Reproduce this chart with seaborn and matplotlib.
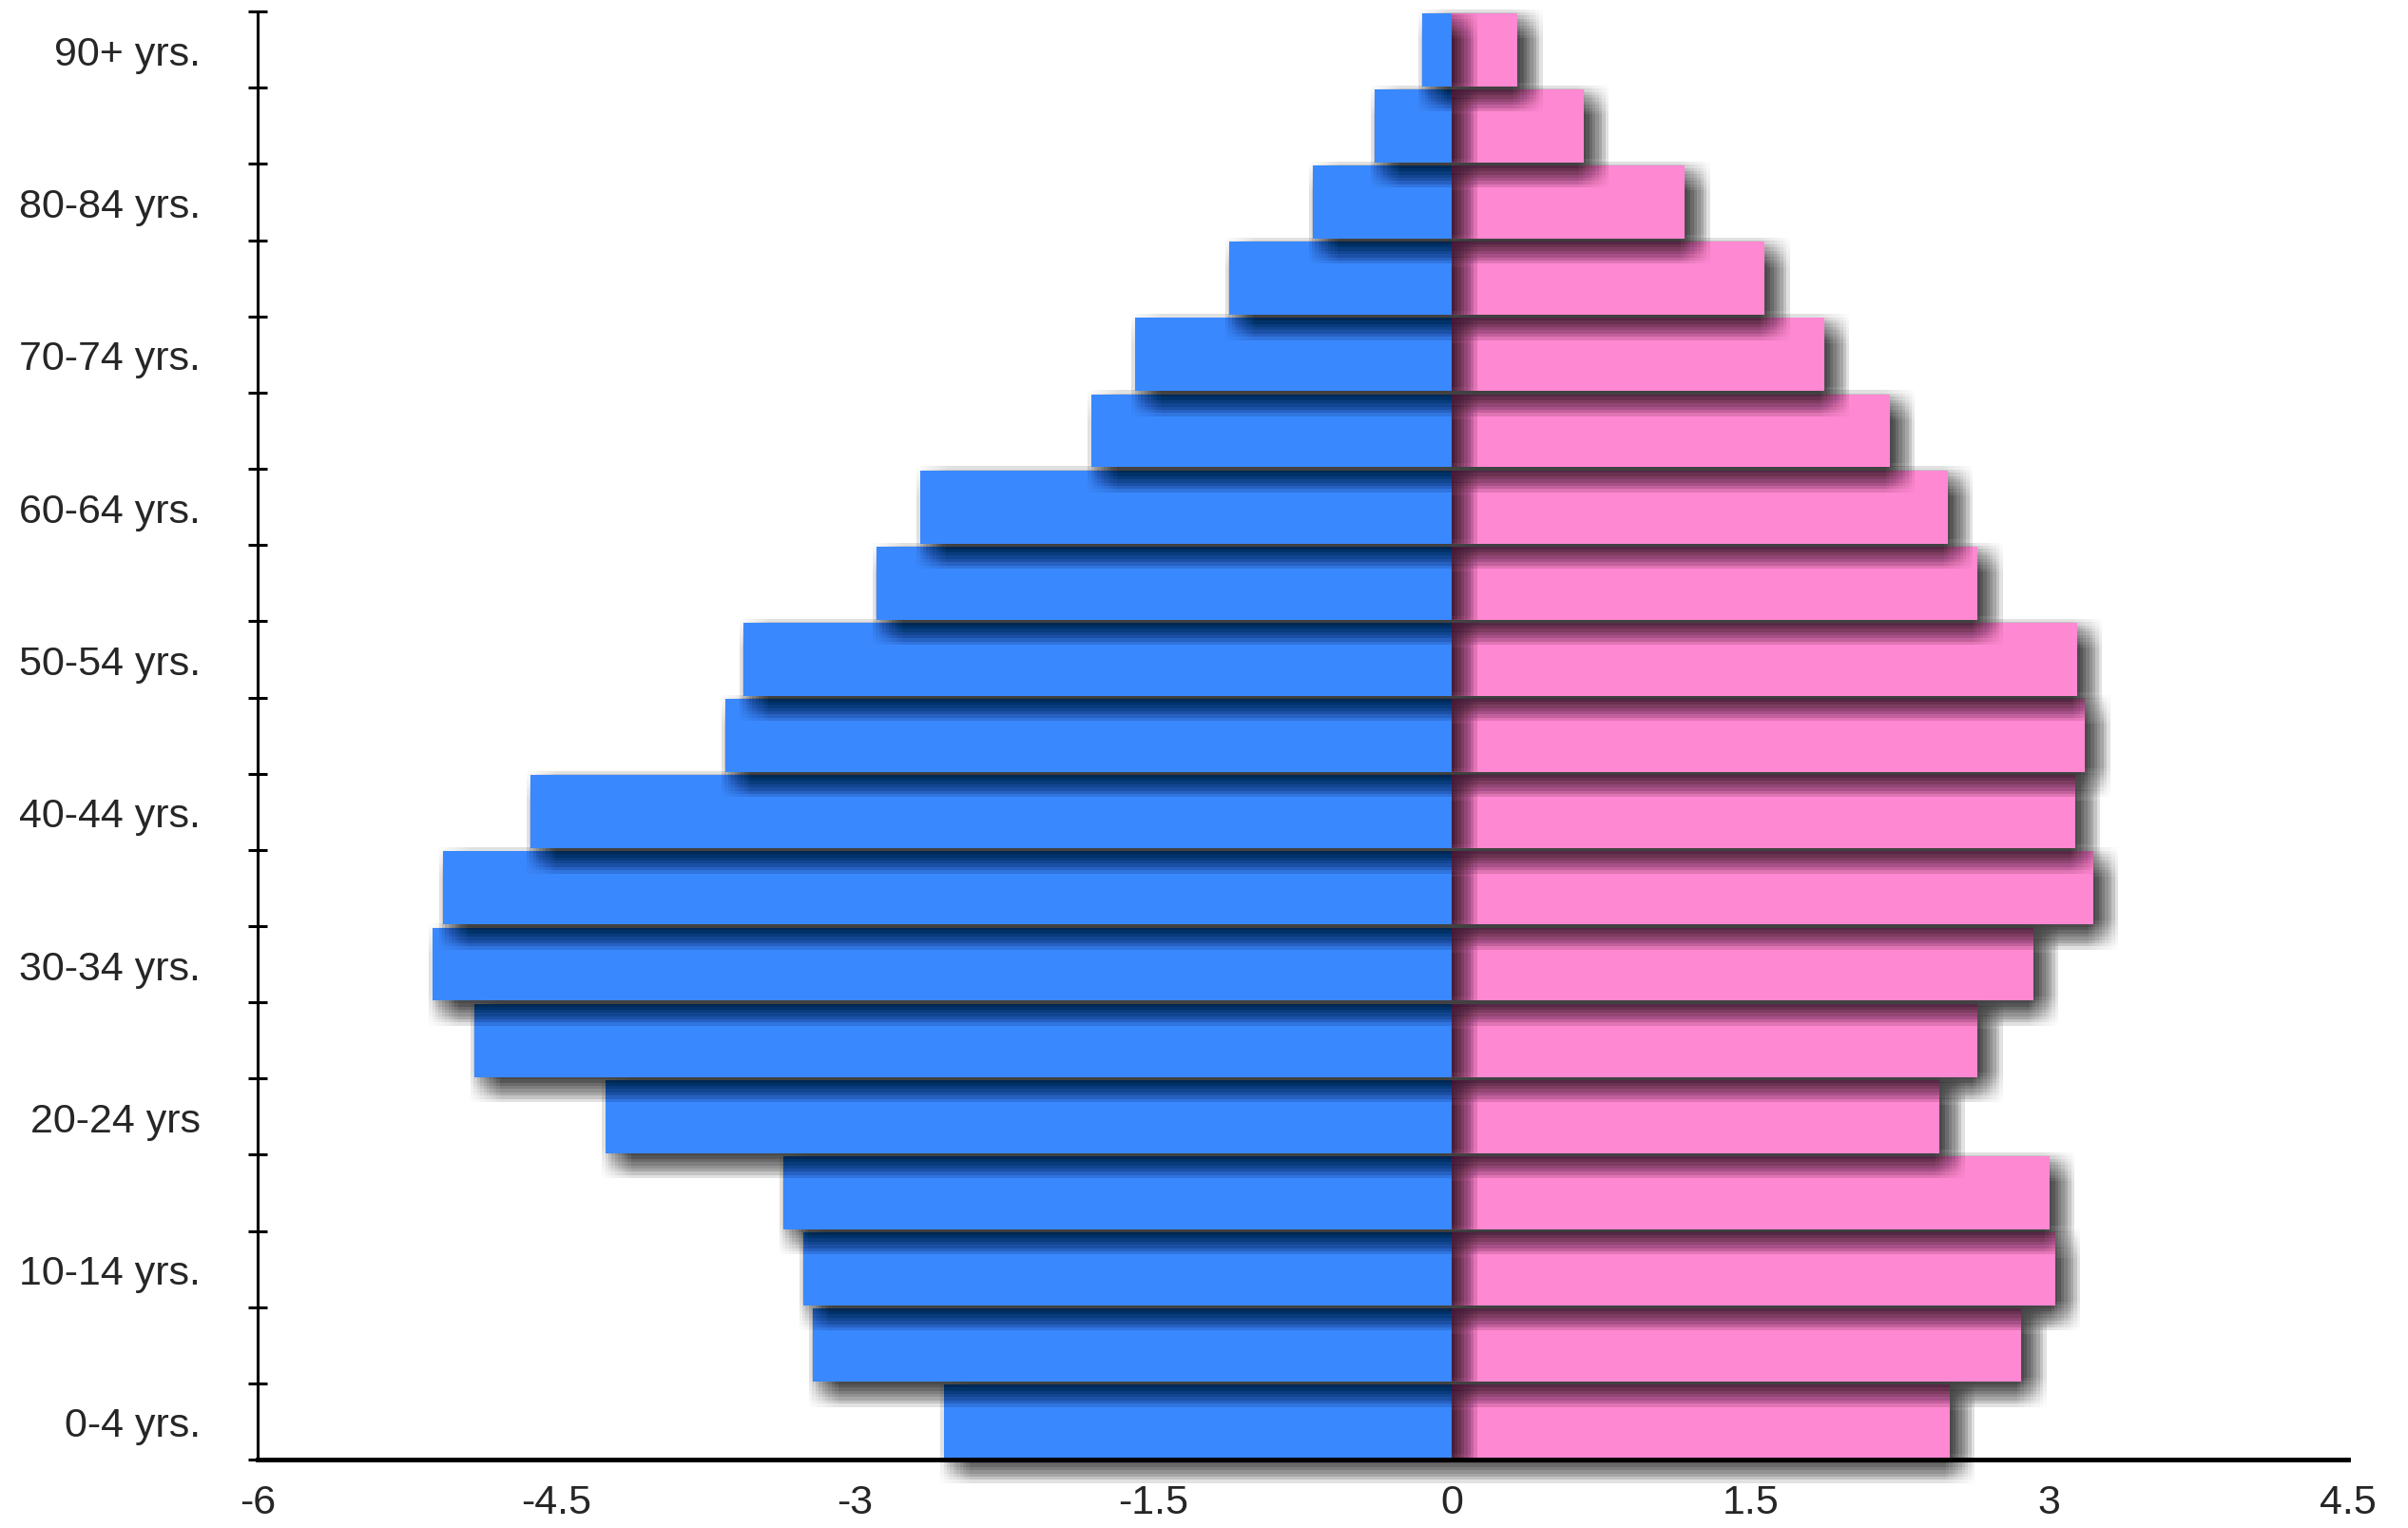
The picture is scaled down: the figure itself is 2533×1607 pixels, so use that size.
import numpy as np
import pandas as pd
import seaborn as sns
import matplotlib.pyplot as plt
from matplotlib import patheffects as pe

# age groups, top to bottom
ages = ['90+ yrs.', '85-89 yrs.', '80-84 yrs.', '75-79 yrs.', '70-74 yrs.',
        '65-69 yrs.', '60-64 yrs.', '55-59 yrs.', '50-54 yrs.', '45-49 yrs.',
        '40-44 yrs.', '35-39 yrs.', '30-34 yrs.', '25-29 yrs.', '20-24 yrs',
        '15-19 yrs.', '10-14 yrs.', '5-9 yrs.', '0-4 yrs.']
male = [0.15, 0.39, 0.70, 1.12, 1.59, 1.81, 2.67, 2.89, 3.56, 3.65,
        4.63, 5.07, 5.12, 4.91, 4.25, 3.36, 3.26, 3.21, 2.55]
female = [0.33, 0.66, 1.17, 1.57, 1.87, 2.20, 2.49, 2.64, 3.14, 3.18,
          3.13, 3.22, 2.92, 2.64, 2.45, 3.00, 3.03, 2.86, 2.50]
xticks = [-6, -4.5, -3, -1.5, 0, 1.5, 3, 4.5]
xtick_labels = ['-6', '-4.5', '-3', '-1.5', '0', '1.5', '3', '4.5']

df = pd.DataFrame({
    'age': ages * 2,
    'value': [-v for v in male] + female,
    'sex': ['male'] * len(ages) + ['female'] * len(ages),
})

sns.set_style('white')
plt.rcParams['font.family'] = ['Liberation Sans', 'DejaVu Sans']

fig = plt.figure(figsize=(25.33, 16.08), dpi=100)
ax = fig.add_axes([0.107, 0.0448, 0.868, 0.947])

sns.barplot(data=df, y='age', x='value', hue='sex', order=ages,
            palette={'male': '#3a88fd', 'female': '#fe88d2'},
            dodge=False, width=0.96, linewidth=0, saturation=1,
            legend=False, ax=ax)

# soft drop shadow: many faint offset copies
offs = np.linspace(-11, 11, 10)
shadow = [pe.SimplePatchShadow(offset=(8 + dx, -8 + dy), shadow_rgbFace='black', alpha=0.011)
          for dx in offs for dy in offs] + [pe.Normal()]

n = len(ages)
for p in ax.patches:
    row = int(round(p.get_y() + p.get_height() / 2))
    z = 10 + (n - row) * 2 + (1 if p.get_width() < 0 else 0)
    p.set_zorder(z)
    p.set_clip_on(False)
    p.set_path_effects(shadow)

ax.set_xlim(-6, 4.5)
ax.set_ylim(n - 0.5, -0.5)
ax.set_xticks(xticks)
ax.set_xticklabels(xtick_labels, fontsize=31)
ax.set_yticks(range(n))
ax.set_yticklabels([a if i % 2 == 0 else '' for i, a in enumerate(ages)], fontsize=31)
ax.set_yticks(np.arange(-0.5, n, 1), minor=True)
ax.tick_params(axis='y', which='major', left=True, length=0, pad=43)
ax.tick_params(axis='y', which='minor', left=True, length=14, width=2.2,
               direction='inout', color='black')
ax.tick_params(axis='x', length=0, pad=18)
ax.set_xlabel('')
ax.set_ylabel('')

sns.despine(ax=ax)
ax.spines['left'].set_linewidth(2.2)
ax.spines['left'].set_color('black')
ax.spines['bottom'].set_linewidth(3.5)
ax.spines['bottom'].set_color('black')

fig.savefig('out.png', dpi=100)
